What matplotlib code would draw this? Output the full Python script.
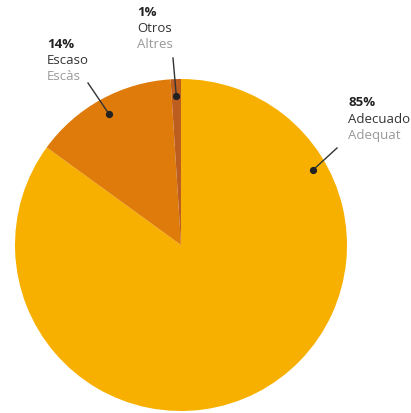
import matplotlib
matplotlib.use("Agg")
import matplotlib.pyplot as plt
import numpy as np

categories_es = ["Adecuado", "Escaso", "Otros"]
categories_ca = ["Adequat", "Escàs", "Altres"]
values = [85, 14, 1]
colors = ["#F7B000", "#DE7B0A", "#BE5E1E"]

W, H = 411, 413
fig = plt.figure(figsize=(W / 100, H / 100), dpi=100)
plt.rcParams['font.family'] = ['Open Sans', 'DejaVu Sans']

cx, cy, R = 181, 245, 166
ax = fig.add_axes([(cx - R) / W, (H - cy - R) / H, 2 * R / W, 2 * R / H])
wedges, _ = ax.pie(values, colors=colors, startangle=90, counterclock=False,
                   radius=1, wedgeprops=dict(linewidth=0))
ax.set_xlim(-1, 1)
ax.set_ylim(-1, 1)
ax.set_aspect('equal')
ax.axis('off')

# annotation layout: (dot angle deg, dot radius, line end px, text left px, text top px)
layout = [
    (29.6, 0.915, (337, 148), 348, 103),
    (None, 0.90, (88, 83), 47, 44),
    (None, 0.90, (173, 58), 137, 12),
]

def px2data(x, y):
    return ((x - cx) / R, (cy - y) / R)

for i, (w, v) in enumerate(zip(wedges, values)):
    ang, rr, lend, tx, ty = layout[i]
    if ang is None:
        ang = (w.theta1 + w.theta2) / 2
    dx, dy = rr * np.cos(np.radians(ang)), rr * np.sin(np.radians(ang))
    ex, ey = px2data(*lend)
    ax.plot([dx, ex], [dy, ey], color="#333333", lw=1, clip_on=False)
    ax.plot([dx], [dy], 'o', color="#222222", ms=4.2, clip_on=False)
    fs = 9.5
    fig.text(tx / W, 1 - ty / H, f"{v}%", fontsize=fs, fontweight='bold',
             color="#222222", va='center', ha='left')
    fig.text(tx / W, 1 - (ty + 16.5) / H, categories_es[i], fontsize=fs,
             color="#333333", va='center', ha='left')
    fig.text(tx / W, 1 - (ty + 33) / H, categories_ca[i], fontsize=fs,
             color="#999999", va='center', ha='left')

fig.savefig("out.png", dpi=100, facecolor="white")
